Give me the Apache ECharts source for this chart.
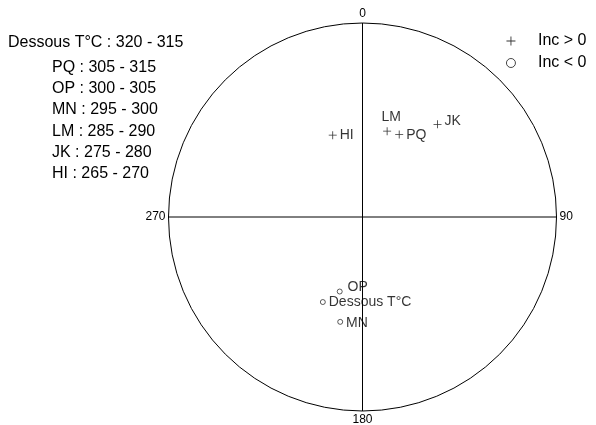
<!DOCTYPE html>
<html><head><meta charset="utf-8">
<script src="https://cdn.jsdelivr.net/npm/echarts@6/dist/echarts.min.js"></script>
<style>html,body{margin:0;padding:0;background:#fff}#c{width:596px;height:425px}</style>
</head><body><div id="c"></div>
<script>
// Data
const posNames = ['HI', 'LM', 'PQ', 'JK'];
const posDec = [340, 16, 24, 39];
const posInc = [53, 52, 51.6, 38.5];
const negNames = ['OP', 'Dessous T°C', 'MN'];
const negDec = [197, 205, 192];
const negInc = [-57, -50, -44];
const rangeNames = ['Dessous T°C', 'PQ', 'OP', 'MN', 'LM', 'JK', 'HI'];
const rangeValues = ['320 - 315', '305 - 315', '300 - 305', '295 - 300', '285 - 290', '275 - 280', '265 - 270'];
const angleTicks = ['0', '90', '180', '270'];

// equal-area projection radius
function eaRadius(inc) { return Math.SQRT2 * Math.sin((90 - Math.abs(inc)) / 2 * Math.PI / 180); }

const labelStyle = {
  'HI': {position: 'right', offset: [-2, 0]},
  'LM': {position: 'top', offset: [4, 2]},
  'PQ': {position: 'right', offset: [-2, 1]},
  'JK': {position: 'right', offset: [-2, -3]},
  'OP': {position: 'right', offset: [0, -4]},
  'Dessous T°C': {position: 'right', offset: [-2, 0]},
  'MN': {position: 'right', offset: [-2, 1]}
};

function build(names, dec, inc) {
  return names.map((n, i) => ({
    name: n,
    value: [eaRadius(inc[i]), dec[i]],
    label: Object.assign({show: true, formatter: n}, labelStyle[n])
  }));
}

const plusPath = 'path://M3.6,0 H4.4 V3.6 H8 V4.4 H4.4 V8 H3.6 V4.4 H0 V3.6 H3.6 Z';
const font = 'Liberation Sans, Arial, sans-serif';

const chart = echarts.init(document.getElementById('c'), null, {renderer: 'canvas'});
chart.setOption({
  animation: false,
  backgroundColor: '#fff',
  textStyle: {fontFamily: font},
  title: [
    {text: rangeNames[0] + ' : ' + rangeValues[0], left: 8, top: 35, padding: 0,
     textStyle: {fontSize: 16, fontWeight: 'normal', color: '#000', fontFamily: font}},
    {text: rangeNames.slice(1).map((n, i) => n + ' : ' + rangeValues[i + 1]).join('\n'),
     left: 52, top: 57, padding: 0,
     textStyle: {fontSize: 16, fontWeight: 'normal', color: '#000', lineHeight: 21.2, fontFamily: font}}
  ],
  legend: {
    orient: 'vertical', left: 506, top: 33, itemGap: 6, itemWidth: 10, itemHeight: 9, padding: 0,
    textStyle: {fontSize: 16, color: '#000', fontFamily: font, padding: [0, 0, 0, 17]},
    data: [
      {name: 'Inc > 0', icon: plusPath, itemStyle: {color: '#000'}},
      {name: 'Inc < 0', icon: 'circle', itemStyle: {color: '#fff', borderColor: '#000', borderWidth: 0.9}}
    ]
  },
  polar: {center: [362.5, 217], radius: 194},
  angleAxis: {
    type: 'value', min: 0, max: 360, interval: 90, startAngle: 90, clockwise: true,
    axisLine: {lineStyle: {color: '#000', width: 1}},
    axisTick: {show: false},
    axisLabel: {color: '#000', fontSize: 12, margin: 3, fontFamily: font,
      formatter: v => (v >= 360 ? '' : angleTicks[Math.round(v / 90)])},
    splitLine: {show: true, lineStyle: {color: '#000', width: 1}}
  },
  radiusAxis: {
    type: 'value', min: 0, max: 1,
    axisLine: {show: false}, axisTick: {show: false}, axisLabel: {show: false}, splitLine: {show: false}
  },
  series: [
    {name: 'Inc > 0', type: 'scatter', coordinateSystem: 'polar', symbol: plusPath, symbolSize: 8,
     itemStyle: {color: '#000'},
     label: {color: '#000', fontSize: 14, fontFamily: font},
     data: build(posNames, posDec, posInc)},
    {name: 'Inc < 0', type: 'scatter', coordinateSystem: 'polar', symbol: 'circle', symbolSize: 5,
     itemStyle: {color: '#fff', borderColor: '#000', borderWidth: 0.8},
     label: {color: '#000', fontSize: 14, fontFamily: font},
     data: build(negNames, negDec, negInc)}
  ]
});
</script></body></html>
